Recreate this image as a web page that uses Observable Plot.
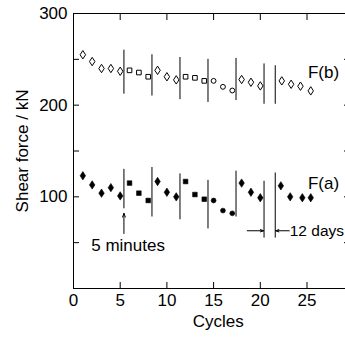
<!DOCTYPE html>
<html>
<head>
<meta charset="utf-8">
<script src="https://cdn.jsdelivr.net/npm/d3@7"></script>
<script src="https://cdn.jsdelivr.net/npm/@observablehq/plot@0.6"></script>
<style>
  html, body { margin: 0; padding: 0; background: #fff; }
</style>
</head>
<body>
<div id="chart"></div>
<script>
// ---- data ----
const cyclesB = [1,2,3,4,5,6,7,8,9,10,11,12,13,14,15,16,17,18,19,20,22.3,23.3,24.3,25.4];
const forceB  = [255,247.6,240,240,237,238,235.6,231,238,231,227.6,231,229.8,226.5,226.5,220,216,228,225,221,226.5,222.8,220.7,215.6];
const cyclesA = [1,2,3,4,5,6,7,8,9,10,11,12,13,14,15,16,17,18,19,20,22.2,23.2,24.5,25.4];
const forceA  = [123,113,104,110,101,115,104,96,116.7,105,100,116.7,102.5,97.4,96,85,82,115,105,99,112,100,99,99];
// marker kind per point: d = diamond, s = square, c = circle
const kinds = ["d","d","d","d","d","s","s","s","d","d","d","s","s","s","c","c","c","d","d","d","d","d","d","d"];

// vertical separators (cycle, lower, upper)
const sepB_x  = [5.4, 8.4, 11.4, 14.4, 17.4, 20.4, 21.6];
const sepB_lo = [212, 210, 206, 203, 205, 201, 201];
const sepB_hi = [260, 255, 252, 250, 251, 245, 243];
const sepA_x  = [5.4, 8.4, 11.4, 14.4, 17.4, 20.4, 21.6];
const sepA_lo = [87, 78, 75, 65, 78, 55, 55];
const sepA_hi = [130, 132, 125, 118, 128, 117, 126];

const yTicks = [0, 50, 100, 150, 200, 250, 300];
const yLabels = [100, 200, 300];
const xTicks = [0, 5, 10, 15, 20, 25];

const seriesLabels = [
  {x: 25.1, y: 236, text: "F(b)"},
  {x: 25.1, y: 114, text: "F(a)"}
];

// ---- build rows ----
const rowsB = cyclesB.map((c, i) => ({x: c, y: forceB[i], k: kinds[i]}));
const rowsA = cyclesA.map((c, i) => ({x: c, y: forceA[i], k: kinds[i]}));
const sepB = sepB_x.map((x, i) => ({x, y1: sepB_lo[i], y2: sepB_hi[i]}));
const sepA = sepA_x.map((x, i) => ({x, y1: sepA_lo[i], y2: sepA_hi[i]}));

// custom symbols
const tallDiamond = {draw(ctx, size) {
  const r = Math.sqrt(size / Math.PI);
  const w = r * 0.65, h = r;
  ctx.moveTo(0, -h); ctx.lineTo(w, 0); ctx.lineTo(0, h); ctx.lineTo(-w, 0); ctx.closePath();
}};
const smallSquare = {draw(ctx, size) {
  const r = Math.sqrt(size / Math.PI);
  const s = r * 0.55;
  ctx.moveTo(-s, -s); ctx.lineTo(s, -s); ctx.lineTo(s, s); ctx.lineTo(-s, s); ctx.closePath();
}};
const smallCircle = {draw(ctx, size) {
  const r = Math.sqrt(size / Math.PI) * 0.58;
  ctx.moveTo(r, 0); ctx.arc(0, 0, r, 0, 2 * Math.PI);
}};
const symFor = {d: tallDiamond, s: smallSquare, c: smallCircle};

function dotsFor(rows, filled) {
  return ["d", "s", "c"].map(k => Plot.dot(rows.filter(r => r.k === k), {
    x: "x", y: "y", r: 4.2, symbol: symFor[k],
    fill: filled ? "black" : "white",
    stroke: "black", strokeWidth: filled ? 0.6 : 1
  }));
}

const FONT = "Liberation Sans, Arial, sans-serif";

const chart = Plot.plot({
  width: 345,
  height: 337,
  marginLeft: 73,
  marginRight: -4,
  marginTop: 13,
  marginBottom: 49,
  style: {fontFamily: FONT, fontSize: "17px", background: "white", color: "black"},
  x: {domain: [0, 29.55], axis: null},
  y: {domain: [0, 300], axis: null},
  marks: [
    // frame lines
    Plot.ruleX([0], {stroke: "black", strokeWidth: 1}),
    Plot.ruleY([0], {stroke: "black", strokeWidth: 1}),
    Plot.ruleY([300], {stroke: "black", strokeWidth: 1}),
    // axes (inward ticks)
    Plot.axisY(yTicks, {anchor: "left", tickSize: -6, tickPadding: 12,
      tickFormat: d => yLabels.includes(d) ? String(d) : "", fontSize: 17, label: null}),
    Plot.axisY(yTicks, {anchor: "right", tickSize: -6, tickFormat: () => "", label: null}),
    Plot.axisX(xTicks, {anchor: "bottom", tickSize: -6, tickPadding: 11, fontSize: 17, label: null}),
    Plot.axisX(xTicks.filter(d => d > 0), {anchor: "top", tickSize: -6, tickFormat: () => "", label: null}),
    // axis titles
    Plot.text(["Shear force / kN"], {frameAnchor: "left", dx: -51, rotate: -90, textAnchor: "middle", fontSize: 17, fill: "black"}),
    Plot.text(["Cycles"], {frameAnchor: "bottom", dy: 38, fontSize: 17, fill: "black", x: () => 15.5}),
    // separators
    Plot.ruleX(sepB, {x: "x", y1: "y1", y2: "y2", stroke: "black", strokeWidth: 1}),
    Plot.ruleX(sepA, {x: "x", y1: "y1", y2: "y2", stroke: "black", strokeWidth: 1}),
    // data
    ...dotsFor(rowsB, false),
    ...dotsFor(rowsA, true),
    // annotations
    Plot.arrow([{x1: 5.4, y1: 60, x2: 5.4, y2: 82}], {x1: "x1", y1: "y1", x2: "x2", y2: "y2", headLength: 6, headAngle: 40, stroke: "black", strokeWidth: 1}),
    Plot.arrow([{x1: 18.6, y1: 63, x2: 20.35, y2: 63}, {x1: 23.1, y1: 63, x2: 21.65, y2: 63}],
      {x1: "x1", y1: "y1", x2: "x2", y2: "y2", headLength: 5, headAngle: 40, stroke: "black", strokeWidth: 1}),
    Plot.text([{x: 1.9, y: 47, t: "5 minutes"}],
      {x: "x", y: "y", text: "t", textAnchor: "start", fontSize: 17, fill: "black"}),
    Plot.text([{x: 23.15, y: 63, t: "12 days"}],
      {x: "x", y: "y", text: "t", textAnchor: "start", fontSize: 15.5, fill: "black"}),
    Plot.text(seriesLabels, {x: "x", y: "y", text: "text", textAnchor: "start", fontSize: 17, fill: "black"})
  ]
});
document.getElementById("chart").appendChild(chart);
</script>
</body>
</html>
